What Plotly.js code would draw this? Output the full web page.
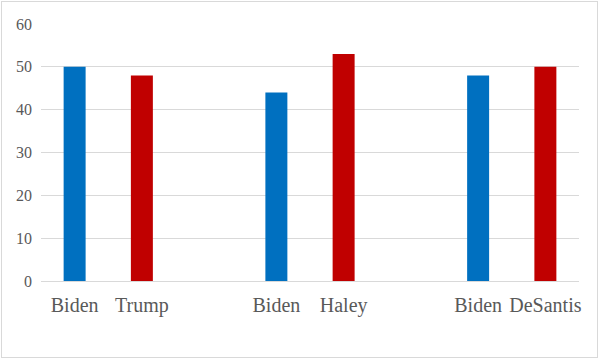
<!DOCTYPE html>
<html>
<head>
<meta charset="utf-8">
<script src="https://cdn.plot.ly/plotly-3.0.1.min.js"></script>
<style>
  html, body { margin: 0; padding: 0; background: #fff; }
  #wrap { position: relative; width: 600px; height: 360px; }
  #chart { width: 600px; height: 360px; }
  #frame { position: absolute; left: 1px; top: 1px; width: 595px; height: 355px;
           border: 1px solid #d9d9d9; pointer-events: none; }
</style>
</head>
<body>
<div id="wrap">
  <div id="chart"></div>
  <div id="frame"></div>
</div>
<script>
// Data
const challenger = "Biden";
const opponents = ["Trump", "Haley", "DeSantis"];
const bidenValues = [50, 44, 48];
const opponentValues = [48, 53, 50];
const yTicks = [0, 10, 20, 30, 40, 50, 60];

// Build slots: each matchup occupies 2 slots followed by an empty slot
const xs = [], ys = [], labels = [], colors = [];
opponents.forEach((opp, i) => {
  xs.push(i * 3);     ys.push(bidenValues[i]);    labels.push(challenger); colors.push("#0070C0");
  xs.push(i * 3 + 1); ys.push(opponentValues[i]); labels.push(opp);        colors.push("#C00000");
});

const serif = "'Liberation Serif', 'Times New Roman', 'DejaVu Serif', serif";

const trace = {
  type: "bar",
  x: xs,
  y: ys,
  width: 0.327,
  marker: { color: colors, line: { width: 0 } },
  hoverinfo: "x+y"
};

const layout = {
  width: 600,
  height: 360,
  margin: { l: 41, r: 21, t: 24, b: 79 },
  paper_bgcolor: "#ffffff",
  plot_bgcolor: "#ffffff",
  showlegend: false,
  font: { family: serif, color: "#595959" },
  xaxis: {
    range: [-0.5, 7.5],
    tickmode: "array",
    tickvals: xs,
    ticktext: labels,
    tickfont: { family: serif, size: 20, color: "#595959" },
    showgrid: false,
    zeroline: false,
    showline: true,
    linecolor: "#d9d9d9",
    linewidth: 1,
    ticks: "",
    ticklabelstandoff: 6
  },
  yaxis: {
    range: [0, 60],
    tickmode: "array",
    tickvals: yTicks,
    ticktext: yTicks.map(String),
    tickfont: { family: serif, size: 16, color: "#595959" },
    showgrid: true,
    gridcolor: "#d9d9d9",
    gridwidth: 1,
    zeroline: false,
    showline: false,
    ticks: "",
    ticklabelstandoff: 8
  }
};

Plotly.newPlot("chart", [trace], layout, { staticPlot: true });
</script>
</body>
</html>
